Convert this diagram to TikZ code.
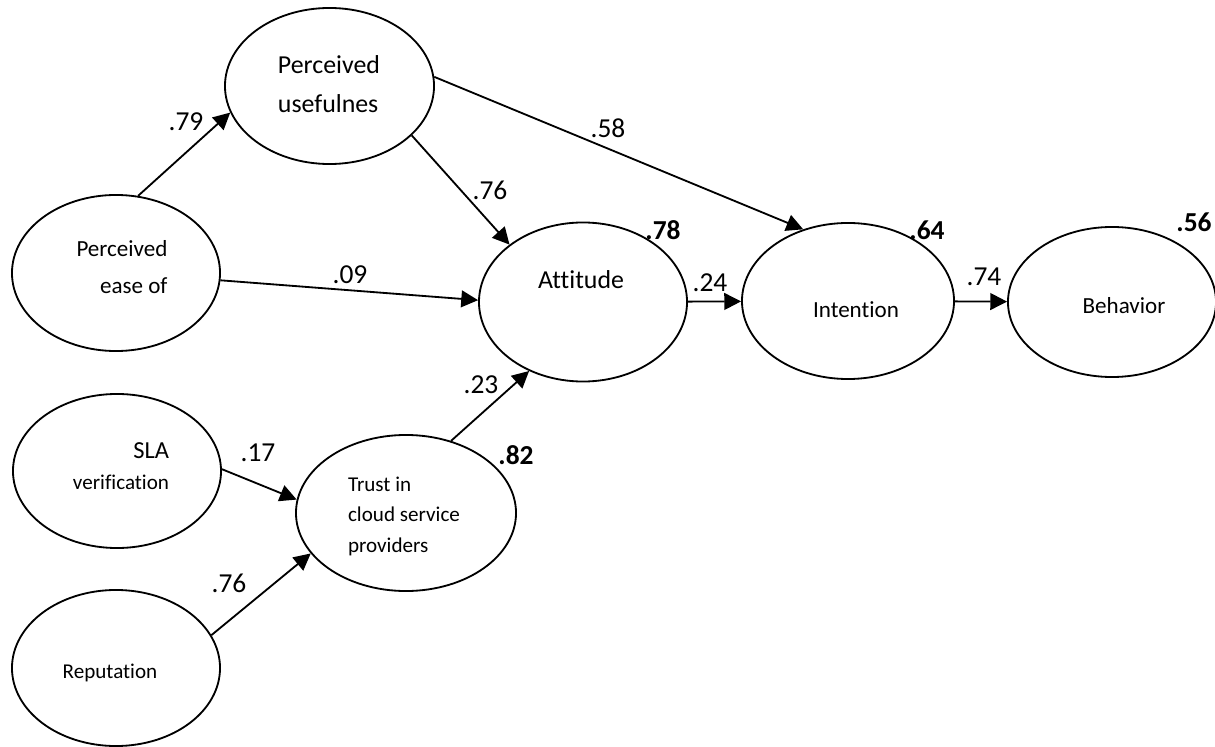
\documentclass[tikz,border=0pt]{standalone}
\usepackage{fontspec}
\setmainfont{Carlito}[Ligatures={NoCommon,NoRare}]
\usetikzlibrary{arrows.meta,shapes.geometric}

\tikzset{
  latent/.style={draw, ellipse, line width=1.3pt, inner sep=0pt,
    minimum width=5.2cm, minimum height=3.9cm},
  effect/.style={-{Triangle[length=0.42cm,width=0.42cm]}, line width=1.3pt},
  coef/.style={inner sep=0pt, font=\fontsize{19.5}{22}\selectfont},
  rsq/.style={inner sep=0pt, font=\bfseries\fontsize{19.5}{22}\selectfont},
  big/.style={inner sep=0pt, font=\fontsize{18.4}{27.7}\selectfont},
  mid/.style={inner sep=0pt, font=\fontsize{16.4}{26.3}\selectfont},
  small/.style={inner sep=0pt, font=\fontsize{15}{21.7}\selectfont}
}

\begin{document}
\begin{tikzpicture}[x=0.025cm,y=-0.025cm]
    \useasboundingbox (0,0) rectangle (1215,747);

    % LATENT VARIABLES
    \node[latent, minimum width=5.225cm] (use) at (329.5,86) {};
    \node[latent] (ease) at (116,273) {};
    \node[latent, minimum height=3.975cm] (att) at (583,302) {};
    \node[latent, minimum width=5.3cm] (int) at (848,301) {};
    \node[latent, minimum height=3.75cm] (beh) at (1112,302) {};
    \node[latent, minimum height=3.85cm] (sla) at (117,471) {};
    \node[latent, minimum width=5.5cm] (trust) at (406,513) {};
    \node[latent] (rep) at (116,668) {};

    % TEXTS
    \node[big, align=left] (use-t) at (329,84) {Perceived\\usefulnes};
    \node[mid, align=right] (ease-t) at (122,267) {Perceived\\ease of};
    \node[big] (att-t) at (581,280) {Attitude};
    \node[mid] (int-t) at (856,310) {Intention};
    \node[mid] (beh-t) at (1124,306) {Behavior};
    \node[small, align=right] (sla-t) at (121,466)
        {{\fontsize{17.4}{22}\selectfont SLA}\\verification};
    \node[small, align=left] (trust-t) at (404,516)
        {Trust in\\cloud service\\providers};
    \node[small] (rep-t) at (110,673) {Reputation};

    % PATHS
    \draw[effect] (ease.74) -- (use.195);
    \draw[effect] (use.-31) -- (att.142);
    \draw[effect] (ease.-4) -- (att.179);
    \draw[effect] (use.5) -- (int.122);
    \draw[effect] (att) -- (int);
    \draw[effect] (int) -- (beh);
    \draw[effect] (sla.1) -- (trust.173);
    \draw[effect] (rep.19) -- (trust.203);
    \draw[effect] (trust.58) -- (att.232);

    % COEFFICIENTS
    \node[coef] (c-ease-use) at (186,122) {.79};
    \node[coef] (c-use-att) at (490,190) {.76};
    \node[coef] (c-ease-att) at (350,275) {.09};
    \node[coef] (c-use-int) at (608,128) {.58};
    \node[coef] (c-att-int) at (710,283) {.24};
    \node[coef] (c-int-beh) at (984,277) {.74};
    \node[coef] (c-sla-trust) at (258,453) {.17};
    \node[coef] (c-rep-trust) at (229,583) {.76};
    \node[coef] (c-trust-att) at (481,385) {.23};

    % R SQUARED
    \node[rsq] (r-att) at (663,230) {.78};
    \node[rsq] (r-int) at (927,230) {.64};
    \node[rsq] (r-beh) at (1194,222) {.56};
    \node[rsq] (r-trust) at (516,455) {.82};
\end{tikzpicture}
\end{document}
